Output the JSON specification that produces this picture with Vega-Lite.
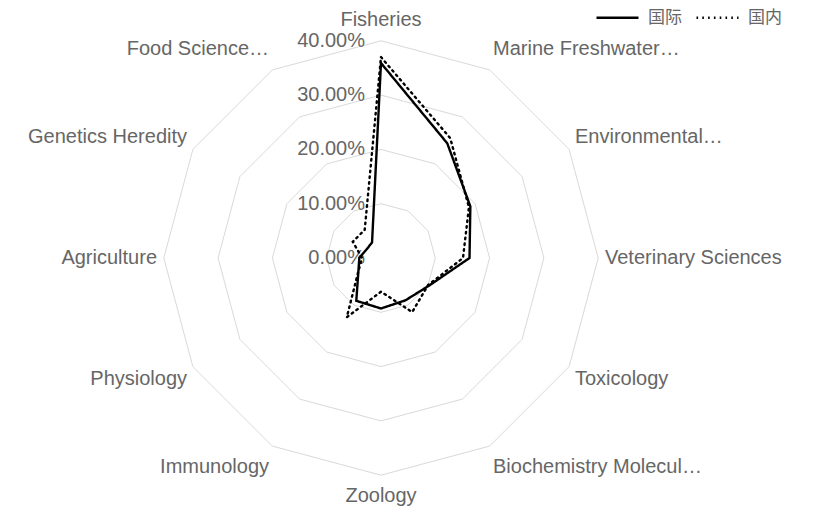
{
  "$schema": "https://vega.github.io/schema/vega-lite/v6.json",
  "width": 823,
  "height": 513,
  "autosize": {"type": "none"},
  "padding": 0,
  "background": "white",
  "config": {"view": {"stroke": null}, "font": "Liberation Sans"},
  "datasets": {
    "scores": [
      {"category": "Fisheries", "series": "国际", "value": 0.359},
      {"category": "Marine Freshwater…", "series": "国际", "value": 0.244},
      {"category": "Environmental…", "series": "国际", "value": 0.190},
      {"category": "Veterinary Sciences", "series": "国际", "value": 0.163},
      {"category": "Toxicology", "series": "国际", "value": 0.102},
      {"category": "Biochemistry Molecul…", "series": "国际", "value": 0.090},
      {"category": "Zoology", "series": "国际", "value": 0.093},
      {"category": "Immunology", "series": "国际", "value": 0.091},
      {"category": "Physiology", "series": "国际", "value": 0.048},
      {"category": "Agriculture", "series": "国际", "value": 0.040},
      {"category": "Genetics Heredity", "series": "国际", "value": 0.031},
      {"category": "Food Science…", "series": "国际", "value": 0.033},
      {"category": "Fisheries", "series": "国内", "value": 0.370},
      {"category": "Marine Freshwater…", "series": "国内", "value": 0.255},
      {"category": "Environmental…", "series": "国内", "value": 0.187},
      {"category": "Veterinary Sciences", "series": "国内", "value": 0.151},
      {"category": "Toxicology", "series": "国内", "value": 0.100},
      {"category": "Biochemistry Molecul…", "series": "国内", "value": 0.115},
      {"category": "Zoology", "series": "国内", "value": 0.062},
      {"category": "Immunology", "series": "国内", "value": 0.126},
      {"category": "Physiology", "series": "国内", "value": 0.048},
      {"category": "Agriculture", "series": "国内", "value": 0.035},
      {"category": "Genetics Heredity", "series": "国内", "value": 0.060},
      {"category": "Food Science…", "series": "国内", "value": 0.060}
    ],
    "rings": [
      {"ring": 0.1, "category": ["Fisheries", "Marine Freshwater…", "Environmental…", "Veterinary Sciences", "Toxicology", "Biochemistry Molecul…", "Zoology", "Immunology", "Physiology", "Agriculture", "Genetics Heredity", "Food Science…"]},
      {"ring": 0.2, "category": ["Fisheries", "Marine Freshwater…", "Environmental…", "Veterinary Sciences", "Toxicology", "Biochemistry Molecul…", "Zoology", "Immunology", "Physiology", "Agriculture", "Genetics Heredity", "Food Science…"]},
      {"ring": 0.3, "category": ["Fisheries", "Marine Freshwater…", "Environmental…", "Veterinary Sciences", "Toxicology", "Biochemistry Molecul…", "Zoology", "Immunology", "Physiology", "Agriculture", "Genetics Heredity", "Food Science…"]},
      {"ring": 0.4, "category": ["Fisheries", "Marine Freshwater…", "Environmental…", "Veterinary Sciences", "Toxicology", "Biochemistry Molecul…", "Zoology", "Immunology", "Physiology", "Agriculture", "Genetics Heredity", "Food Science…"]}
    ],
    "ticks": [
      {"ring": 0}, {"ring": 0.1}, {"ring": 0.2}, {"ring": 0.3}, {"ring": 0.4}
    ]
  },
  "layer": [
    {
      "data": {"name": "rings"},
      "transform": [
        {"flatten": ["category"]},
        {"window": [{"op": "row_number", "as": "rn"}], "groupby": ["ring"]},
        {"calculate": "(datum.rn - 1) * PI / 6", "as": "a"},
        {"calculate": "datum.ring * sin(datum.a)", "as": "px"},
        {"calculate": "datum.ring * cos(datum.a)", "as": "py"}
      ],
      "mark": {"type": "line", "interpolate": "linear-closed", "stroke": "#d9d9d9", "strokeWidth": 1},
      "encoding": {
        "x": {"field": "px", "type": "quantitative", "scale": {"domain": [-0.70166, 0.814], "nice": false, "zero": false}, "axis": null},
        "y": {"field": "py", "type": "quantitative", "scale": {"domain": [-0.46961, 0.47514], "nice": false, "zero": false}, "axis": null},
        "detail": {"field": "ring", "type": "nominal"},
        "order": {"field": "rn", "type": "quantitative"}
      }
    },
    {
      "data": {"name": "ticks"},
      "mark": {"type": "text", "align": "right", "baseline": "middle", "dx": -16, "fontSize": 20, "color": "#666666", "font": "Liberation Sans"},
      "encoding": {
        "x": {"datum": 0, "type": "quantitative", "scale": {"domain": [-0.70166, 0.814], "nice": false, "zero": false}, "axis": null},
        "y": {"field": "ring", "type": "quantitative", "scale": {"domain": [-0.46961, 0.47514], "nice": false, "zero": false}, "axis": null},
        "text": {"field": "ring", "type": "quantitative", "format": ".2%"}
      }
    },
    {
      "data": {"name": "scores"},
      "transform": [
        {"window": [{"op": "row_number", "as": "rn"}], "groupby": ["series"]},
        {"calculate": "(datum.rn - 1) * PI / 6", "as": "a"},
        {"calculate": "datum.value * sin(datum.a)", "as": "px"},
        {"calculate": "datum.value * cos(datum.a)", "as": "py"}
      ],
      "mark": {"type": "line", "interpolate": "linear-closed", "stroke": "#000000", "strokeWidth": 2.4, "strokeCap": "round"},
      "encoding": {
        "x": {"field": "px", "type": "quantitative", "scale": {"domain": [-0.70166, 0.814], "nice": false, "zero": false}, "axis": null},
        "y": {"field": "py", "type": "quantitative", "scale": {"domain": [-0.46961, 0.47514], "nice": false, "zero": false}, "axis": null},
        "strokeDash": {
          "field": "series", "type": "nominal",
          "scale": {"domain": ["国际", "国内"], "range": [[1, 0], [1.6, 4.2]]},
          "legend": {
            "orient": "none", "legendX": 595, "legendY": -5, "direction": "horizontal", "title": null,
            "symbolType": "stroke", "symbolSize": 1764, "symbolStrokeWidth": 2.4, "symbolStrokeColor": "#000000",
            "labelFont": "Noto Sans CJK SC", "labelFontSize": 17, "labelColor": "#666666", "labelOffset": 8, "columnPadding": 9
          }
        },
        "order": {"field": "rn", "type": "quantitative"}
      }
    },
    {
      "data": {"name": "scores"},
      "transform": [
        {"filter": "datum.series === '国际'"},
        {"window": [{"op": "row_number", "as": "rn"}]},
        {"calculate": "(datum.rn - 1) * PI / 6", "as": "a"},
        {"calculate": "0.4125 * sin(datum.a)", "as": "lx"},
        {"calculate": "0.445 * cos(datum.a)", "as": "ly"},
        {"filter": "datum.rn >= 2 && datum.rn <= 6"}
      ],
      "mark": {"type": "text", "align": "left", "baseline": "middle", "fontSize": 20, "color": "#666666", "font": "Liberation Sans"},
      "encoding": {
        "x": {"field": "lx", "type": "quantitative", "scale": {"domain": [-0.70166, 0.814], "nice": false, "zero": false}, "axis": null},
        "y": {"field": "ly", "type": "quantitative", "scale": {"domain": [-0.46961, 0.47514], "nice": false, "zero": false}, "axis": null},
        "text": {"field": "category", "type": "nominal"}
      }
    },
    {
      "data": {"name": "scores"},
      "transform": [
        {"filter": "datum.series === '国际'"},
        {"window": [{"op": "row_number", "as": "rn"}]},
        {"calculate": "(datum.rn - 1) * PI / 6", "as": "a"},
        {"calculate": "0.4125 * sin(datum.a)", "as": "lx"},
        {"calculate": "0.438 * cos(datum.a)", "as": "ly"},
        {"filter": "datum.rn === 1 || datum.rn === 7"}
      ],
      "mark": {"type": "text", "align": "center", "baseline": "middle", "fontSize": 20, "color": "#666666", "font": "Liberation Sans"},
      "encoding": {
        "x": {"field": "lx", "type": "quantitative", "scale": {"domain": [-0.70166, 0.814], "nice": false, "zero": false}, "axis": null},
        "y": {"field": "ly", "type": "quantitative", "scale": {"domain": [-0.46961, 0.47514], "nice": false, "zero": false}, "axis": null},
        "text": {"field": "category", "type": "nominal"}
      }
    },
    {
      "data": {"name": "scores"},
      "transform": [
        {"filter": "datum.series === '国际'"},
        {"window": [{"op": "row_number", "as": "rn"}]},
        {"calculate": "(datum.rn - 1) * PI / 6", "as": "a"},
        {"calculate": "0.4125 * sin(datum.a)", "as": "lx"},
        {"calculate": "0.445 * cos(datum.a)", "as": "ly"},
        {"filter": "datum.rn >= 8"}
      ],
      "mark": {"type": "text", "align": "right", "baseline": "middle", "fontSize": 20, "color": "#666666", "font": "Liberation Sans"},
      "encoding": {
        "x": {"field": "lx", "type": "quantitative", "scale": {"domain": [-0.70166, 0.814], "nice": false, "zero": false}, "axis": null},
        "y": {"field": "ly", "type": "quantitative", "scale": {"domain": [-0.46961, 0.47514], "nice": false, "zero": false}, "axis": null},
        "text": {"field": "category", "type": "nominal"}
      }
    }
  ]
}
